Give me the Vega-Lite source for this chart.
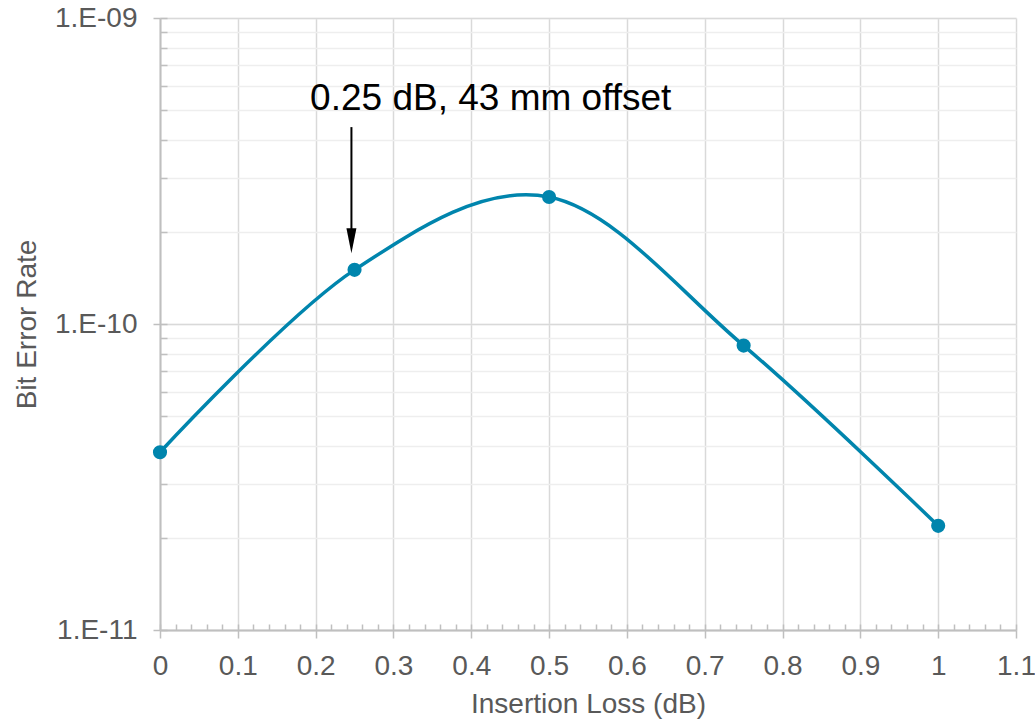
{
  "$schema": "https://vega.github.io/schema/vega-lite/v6.json",
  "width": 856,
  "height": 612,
  "autosize": {"type": "none"},
  "padding": {"left": 160, "top": 18, "right": 19, "bottom": 91},
  "background": "white",
  "config": {
    "view": {"stroke": null},
    "font": "Liberation Sans",
    "axis": {
      "labelFont": "Liberation Sans",
      "titleFont": "Liberation Sans",
      "labelColor": "#595959",
      "titleColor": "#595959",
      "labelFontSize": 28,
      "titleFontSize": 28,
      "titleFontWeight": "normal",
      "tickColor": "#bfbfbf",
      "domainColor": "#bfbfbf"
    }
  },
  "datasets": {
    "ber": [
      {"loss": 0, "rate": 3.81e-11},
      {"loss": 0.25, "rate": 1.503e-10},
      {"loss": 0.5, "rate": 2.6e-10},
      {"loss": 0.75, "rate": 8.5e-11},
      {"loss": 1, "rate": 2.19e-11}
    ],
    "note": [{"x": 0.425, "y": 5e-10, "label": "0.25 dB, 43 mm offset"}],
    "arrow": [{"x": 0.246, "y": 4.4e-10, "y2": 1.87e-10, "head": 1.87e-10}]
  },
  "layer": [
    {
      "data": {"name": "ber"},
      "mark": {"type": "point", "opacity": 0},
      "encoding": {
        "x": {
          "field": "loss", "type": "quantitative",
          "scale": {"domain": [0, 1.1], "nice": false, "zero": false},
          "axis": {
            "orient": "bottom", "title": null, "labels": false, "grid": false, "domain": false,
            "tickSize": -6, "tickWidth": 1.5,
            "values": [0,0.02,0.04,0.06,0.08,0.1,0.12,0.14,0.16,0.18,0.2,0.22,0.24,0.26,0.28,0.3,0.32,0.34,0.36,0.38,0.4,0.42,0.44,0.46,0.48,0.5,0.52,0.54,0.56,0.58,0.6,0.62,0.64,0.66,0.68,0.7,0.72,0.74,0.76,0.78,0.8,0.82,0.84,0.86,0.88,0.9,0.92,0.94,0.96,0.98,1,1.02,1.04,1.06,1.08,1.1]
          }
        },
        "y": {
          "field": "rate", "type": "quantitative",
          "scale": {"type": "log", "domain": [1e-11, 1e-9], "nice": false},
          "axis": {
            "orient": "left", "title": null, "labels": false, "domain": false,
            "grid": true, "gridColor": "#eeeeee", "gridWidth": 1.5,
            "tickSize": -7, "tickWidth": 1.5,
            "values": [1e-11,2e-11,3e-11,4e-11,5e-11,6e-11,7e-11,8e-11,9e-11,1e-10,2e-10,3e-10,4e-10,5e-10,6e-10,7e-10,8e-10,9e-10,1e-9]
          }
        }
      }
    },
    {
      "data": {"name": "ber"},
      "mark": {"type": "line", "interpolate": "cardinal", "color": "#0085ad", "strokeWidth": 3.5},
      "encoding": {
        "x": {
          "field": "loss", "type": "quantitative",
          "scale": {"domain": [0, 1.1], "nice": false, "zero": false},
          "axis": {
            "orient": "bottom", "title": "Insertion Loss (dB)",
            "values": [0,0.1,0.2,0.3,0.4,0.5,0.6,0.7,0.8,0.9,1,1.1],
            "format": "~g",
            "grid": true, "gridColor": "#d9d9d9", "gridWidth": 1.5,
            "tickSize": 8, "tickWidth": 1.5, "domainWidth": 2,
            "labelPadding": 14, "labelFlush": false,
            "titleBaseline": "alphabetic", "titleY": 82
          }
        },
        "y": {
          "field": "rate", "type": "quantitative",
          "scale": {"type": "log", "domain": [1e-11, 1e-9], "nice": false},
          "axis": {
            "orient": "left", "title": "Bit Error Rate",
            "values": [1e-11, 1e-10, 1e-9],
            "labelExpr": "datum.value > 5e-10 ? '1.E-09' : (datum.value > 5e-11 ? '1.E-10' : '1.E-11')",
            "grid": true, "gridColor": "#d9d9d9", "gridWidth": 1.5,
            "tickSize": 7, "tickWidth": 1.5, "domainWidth": 2,
            "labelPadding": 16, "labelFlush": false,
            "titleBaseline": "alphabetic", "titleX": -125, "titleAngle": -90
          }
        }
      }
    },
    {
      "data": {"name": "ber"},
      "mark": {"type": "circle", "color": "#0085ad", "size": 200, "opacity": 1},
      "encoding": {
        "x": {"field": "loss", "type": "quantitative", "scale": {"domain": [0, 1.1], "nice": false, "zero": false}, "axis": null},
        "y": {"field": "rate", "type": "quantitative", "scale": {"type": "log", "domain": [1e-11, 1e-9], "nice": false}, "axis": null}
      }
    },
    {
      "data": {"name": "arrow"},
      "mark": {"type": "rule", "color": "black", "strokeWidth": 2},
      "encoding": {
        "x": {"field": "x", "type": "quantitative", "scale": {"domain": [0, 1.1], "nice": false, "zero": false}, "axis": null},
        "y": {"field": "y", "type": "quantitative", "scale": {"type": "log", "domain": [1e-11, 1e-9], "nice": false}, "axis": null},
        "y2": {"field": "y2"}
      }
    },
    {
      "data": {"name": "arrow"},
      "mark": {"type": "point", "shape": "M-0.4,-1L0.4,-1L0,1Z", "size": 625, "filled": true, "color": "black", "opacity": 1, "strokeWidth": 0},
      "encoding": {
        "x": {"field": "x", "type": "quantitative", "scale": {"domain": [0, 1.1], "nice": false, "zero": false}, "axis": null},
        "y": {"field": "head", "type": "quantitative", "scale": {"type": "log", "domain": [1e-11, 1e-9], "nice": false}, "axis": null}
      }
    },
    {
      "data": {"name": "note"},
      "mark": {"type": "text", "font": "Liberation Sans", "fontSize": 37, "align": "center", "baseline": "alphabetic", "color": "black"},
      "encoding": {
        "x": {"field": "x", "type": "quantitative", "scale": {"domain": [0, 1.1], "nice": false, "zero": false}, "axis": null},
        "y": {"field": "y", "type": "quantitative", "scale": {"type": "log", "domain": [1e-11, 1e-9], "nice": false}, "axis": null},
        "text": {"field": "label"}
      }
    }
  ],
  "resolve": {"axis": {"x": "independent", "y": "independent"}}
}
